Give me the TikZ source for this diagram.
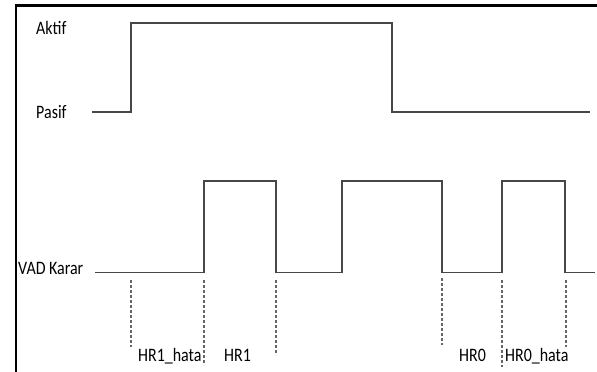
\documentclass[tikz,border=0pt]{standalone}
\usepackage{fontspec}
\setmainfont{Carlito}[FakeStretch=0.84]
\begin{document}
\begin{tikzpicture}[x=1pt,y=-1pt,
  sig/.style={draw=black!72,line width=1.3pt},
  dashmark/.style={draw=black!60,line width=1.1pt,dash pattern=on 3pt off 2pt},
  lbl/.style={anchor=base west,inner sep=0pt,font=\fontsize{19}{21}\selectfont,text=black},
  frameline/.style={draw=black,line width=2.6pt}]
\useasboundingbox (0,0) rectangle (597,372);
% frame
\draw[frameline] (16,372) -- (16,5.5) -- (597,5.5);
% labels
\node[lbl] (aktif) at (36,34) {Aktif};
\node[lbl] (pasif) at (36,118) {Pasif};
\node[lbl] (vad) at (18,274) {VAD Karar};
\node[lbl] (hr1h) at (138,361) {HR1\_hata};
\node[lbl] (hr1) at (224,361) {HR1};
\node[lbl] (hr0) at (459,361) {HR0};
\node[lbl] (hr0h) at (505,361) {HR0\_hata};
% top signal
\draw[sig] (92,112) -- (131,112) -- (131,23) -- (392,23) -- (392,112) -- (590,112);
% VAD signal
\draw[sig] (95,272.5) -- (204,272.5) -- (204,181) -- (276,181) -- (276,272.5)
  -- (342,272.5) -- (342,181) -- (442,181) -- (442,272.5) -- (502,272.5)
  -- (502,181) -- (565,181) -- (565,272.5) -- (595,272.5);
% dashed markers
\coordinate (d1a) at (131,280); \coordinate (d1b) at (131,347);
\coordinate (d2a) at (204,280); \coordinate (d2b) at (204,365);
\coordinate (d3a) at (276,280); \coordinate (d3b) at (276,355);
\coordinate (d4a) at (442,278); \coordinate (d4b) at (442,345);
\coordinate (d5a) at (502,280); \coordinate (d5b) at (502,367);
\coordinate (d6a) at (566,280); \coordinate (d6b) at (566,347);
\draw[dashmark] (d1a) -- (d1b);
\draw[dashmark] (d2a) -- (d2b);
\draw[dashmark] (d3a) -- (d3b);
\draw[dashmark] (d4a) -- (d4b);
\draw[dashmark] (d5a) -- (d5b);
\draw[dashmark] (d6a) -- (d6b);
\end{tikzpicture}
\end{document}
